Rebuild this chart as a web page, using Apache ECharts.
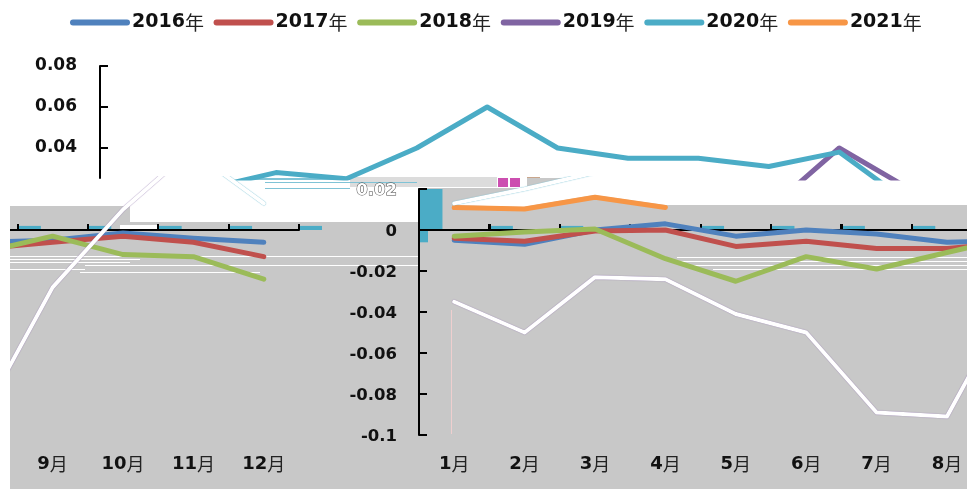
<!DOCTYPE html>
<html><head><meta charset="utf-8">
<style>html,body{margin:0;padding:0;background:#fff}#c{width:967px;height:489px}</style>
<script src="https://cdn.jsdelivr.net/npm/echarts@6/dist/echarts.min.js"></script>
</head><body><div id="c"></div>
<script>
const years = ['2016年','2017年','2018年','2019年','2020年','2021年'];
const colors = ['#4F81BD','#C0504D','#9BBB59','#8064A2','#4BACC6','#F79646'];
const monthsTop = ['1月','2月','3月','4月','5月','6月','7月','8月','9月','10月','11月','12月'];
const v2016 = [-0.005,-0.007,0,0.003,-0.003,0,-0.002,-0.006,-0.005,-0.0015,-0.004,-0.006];
const v2017 = [-0.004,-0.0055,-0.0005,0,-0.008,-0.0055,-0.009,-0.009,-0.006,-0.003,-0.006,-0.013];
const v2018 = [-0.003,-0.001,0.0005,-0.014,-0.025,-0.013,-0.019,-0.011,-0.003,-0.012,-0.013,-0.024];
const v2019 = [-0.035,-0.05,-0.023,-0.024,-0.041,-0.05,-0.089,-0.091,-0.028,0.01,0.04,0.02];
const v2020 = [0.013,0.02,0.028,0.025,0.04,0.06,0.04,0.035,0.035,0.031,0.038,0.013];
const v2021 = [0.011,0.0102,0.016,0.011,null,null,null,null,null,null,null,null];
const barRight = [0.02,0.002,0.002,null,0.002,0.002,0.002,0.002,0.002];
const barLeft = [null,0.002,0.002,0.002,0.002];
const stubRight = [-0.006];
const stubLeft = [0.002];
const allValues = [v2016,v2017,v2018,v2019,v2020,v2021];

const FONT = '"DejaVu Sans","Noto Sans CJK SC",sans-serif';
const CJK = '"Noto Sans CJK SC",sans-serif';
const BAND = 70.4, ZERO_Y = 230, PX = 2050;
const CLIP = (ZERO_Y - 178) / PX;
const GRAY = '#C8C8C8';

const split = t => t.replace(/^(\d+)(.)$/, '{b|$1}{n|$2}');
const rich = size => ({b:{fontFamily:FONT,fontWeight:'bold',fontSize:size,color:'#111'},
                       n:{fontFamily:CJK,fontWeight:'normal',fontSize:size,color:'#222'}});

const G = o => ({outerBoundsMode:'none',containLabel:false,...o});
const leftX = 299-BAND*5;
const grids = [
  G({left:100, top:66, width:BAND*12, height:112}),         // 0 upper slice
  G({left:leftX, top:178, width:BAND*5, height:257}),       // 1 left lower slice
  G({left:419, top:178, width:BAND*9, height:257}),         // 2 right lower slice
  G({left:419, top:189, width:1, height:246}),              // 3 y-axis of lower slice
  G({left:420, top:178, width:8, height:257}),              // 4 narrow negative bar
  G({left:299, top:178, width:23, height:257}),             // 5 last small bar
  G({left:leftX, top:230, width:BAND*5, height:205}),       // 6 left month axis
  G({left:419, top:230, width:BAND*9, height:205}),         // 7 right month labels
  G({left:419, top:230, width:BAND*7, height:205}),         // 8 right zero line, first part
  G({left:419+BAND*7, top:230, width:967-419-BAND*7, height:205}) // 9 right zero line, to the edge
];
const hiddenX = (gi,data) => ({gridIndex:gi,type:'category',data,show:false,boundaryGap:true});
const hiddenY = (gi,min,max) => ({gridIndex:gi,type:'value',min,max,show:false,splitLine:{show:false}});
const lineX = (gi,data,tick) => ({gridIndex:gi,type:'category',data,position:'top',boundaryGap:true,z:3,
  axisLine:{show:true,onZero:false,lineStyle:{color:'#000',width:2}},
  axisTick:{show:tick,inside:false,length:6,lineStyle:{color:'#000',width:2}},
  axisLabel:{show:false},splitLine:{show:false}});
const labelX = (gi,data) => ({gridIndex:gi,type:'category',data,position:'bottom',boundaryGap:true,z:6,
  axisLine:{show:false,onZero:false},axisTick:{show:false},
  axisLabel:{show:true,interval:0,margin:20,formatter:split,rich:rich(18),hideOverlap:false},
  splitLine:{show:false}});

const leftMonths = monthsTop.slice(7);
const rightMonths = monthsTop.slice(0,9);
const axisStyle = {lineStyle:{color:'#000',width:2}};

const xAxis = [
  hiddenX(0,monthsTop),
  hiddenX(1,leftMonths),
  hiddenX(2,rightMonths),
  hiddenX(3,['']),
  hiddenX(4,['']),
  hiddenX(5,['']),
  lineX(6,leftMonths,true),
  hiddenX(7,rightMonths),
  lineX(8,rightMonths.slice(0,7),true),
  lineX(9,[''],false),
  labelX(6,leftMonths),
  labelX(7,rightMonths)
];
const yAxis = [
  {gridIndex:0,type:'value',min:CLIP,max:0.08,z:6,splitLine:{show:false},
   axisLine:{show:true,...axisStyle},
   axisTick:{show:true,inside:true,length:8,customValues:[0.04,0.06,0.08],...axisStyle},
   axisLabel:{customValues:[0.04,0.06,0.08],margin:23,fontFamily:FONT,fontWeight:'bold',fontSize:17,color:'#111',
     padding:[4,0,0,0],formatter:v=>v.toFixed(2)}},
  hiddenY(1,-0.1,CLIP),
  hiddenY(2,-0.1,CLIP),
  {gridIndex:3,type:'value',min:-0.1,max:0.02,interval:0.02,z:6,splitLine:{show:false},
   axisLine:{show:true,...axisStyle},
   axisTick:{show:true,inside:true,length:8,...axisStyle},
   axisLabel:{margin:22,fontFamily:FONT,fontWeight:'bold',fontSize:16.5,color:'#111',padding:[4,0,0,0],
     formatter:v=>Math.abs(v-0.02)<1e-9?'{o|0.02}':String(+v.toFixed(2)),
     rich:{o:{fontFamily:FONT,fontWeight:'bold',fontSize:16.5,color:'#fff',textBorderColor:'#444',textBorderWidth:1}}}},
  hiddenY(4,-0.1,CLIP),
  hiddenY(5,-0.1,CLIP),
  hiddenY(6,-0.1,0),
  hiddenY(7,-0.1,0),
  hiddenY(8,-0.1,0),
  hiddenY(9,-0.1,0)
];

const line = (name,gi,data,lineColor,w,extra) => ({
  name,type:'line',xAxisIndex:gi,yAxisIndex:gi,data,symbol:'none',z:4,clip:true,connectNulls:false,
  itemStyle:{color:lineColor},
  lineStyle:{color:lineColor,width:w,cap:'round',join:'round',...(extra||{})},
  emphasis:{disabled:true},animation:false});
const bar = (gi,data) => ({
  type:'bar',xAxisIndex:gi,yAxisIndex:gi,data,itemStyle:{color:colors[4]},z:2,animation:false,
  barCategoryGap:'0%',barGap:'0%'});
const spacer = gi => ({type:'bar',xAxisIndex:gi,yAxisIndex:gi,data:[],barCategoryGap:'0%',barGap:'0%',animation:false});

const purpleEdge = {shadowColor:colors[3],shadowBlur:1};
const cyanEdge = {shadowColor:colors[4],shadowBlur:1};
const series = [];
years.forEach((y,i)=>series.push(line(y,0,allValues[i],colors[i],5)));
[0,1,2,5].forEach(i=>{
  series.push(line(years[i],1,allValues[i].slice(7),colors[i],5));
  series.push(line(years[i],2,allValues[i].slice(0,9),colors[i],5));
});
series.push(line(years[3],1,v2019.slice(7,11),'#fff',4,purpleEdge));
series.push(line(years[3],2,v2019.slice(0,9),'#fff',4,purpleEdge));
series.push(line(years[4],1,[null,null,null,v2020[10],v2020[11]],'#fff',4,cyanEdge));
series.push(line(years[4],2,v2020.slice(0,3),'#fff',4,cyanEdge));
series.push(bar(1,barLeft),spacer(1),spacer(1));
series.push(bar(2,barRight),spacer(2),spacer(2));
series.push(bar(4,stubRight));
series.push(bar(5,stubLeft));

const rect = (x,y,w,h,fill,z) => ({type:'rect',shape:{x,y,width:w,height:h},style:{fill},z:z,silent:true});
const poly = (points,fill,z) => ({type:'polygon',shape:{points},style:{fill},z:z,silent:true});
const streak = (x,y,w) => rect(x,y,w,1,'#fff',1);

const graphics = [
  rect(10,222,408,267,GRAY,0),
  rect(10,206,120,16,GRAY,0),
  rect(418,188,549,301,GRAY,0),
  rect(350,177,147,10,'#DCDCDC',0),
  rect(527,178,38,10,GRAY,0),
  rect(498,178,10,9,'#CC4FB0',1),
  rect(510,178,10,9,'#CC4FB0',1),
  rect(527,177,13,1,'#C9A68C',1),
  poly([[452,205],[523,207],[594,195],[665,205],[967,205],[967,178],[565,178],[485,196]],'#fff',1),
  rect(120,225,38,4,'#fff',1),
  rect(250,178,100,2,'#7FC3D6',1),
  rect(265,182,152,1,'#7FC3D6',1),
  rect(265,188,85,1,'#7FC3D6',1),
  streak(10,256,408),streak(10,259,130),streak(10,262,120),streak(85,265,333),
  streak(10,269,75),streak(80,272,180),
  streak(677,257,290),streak(680,261,287),streak(690,265,277),streak(713,269,254),
  rect(451,310,1,124,'#EFCFCF',1),
  rect(0,178,10,311,'#fff',50),
  // zero line of the right slice, under the series
  rect(419,229,548,2,'#000',3.5),
  ...[1,2,3,4,5,6,7].map(k=>rect(Math.round(419+BAND*k)-1,224,2,6,'#000',3.5))
];

const chart = echarts.init(document.getElementById('c'),null,{renderer:'canvas'});
chart.setOption({
  animation:false,
  backgroundColor:'#fff',
  grid:grids, xAxis, yAxis, series,
  legend:{data:years,left:65,top:8,itemWidth:54,itemHeight:14,itemGap:9.7,
    formatter:split,
    itemStyle:{opacity:0},
    lineStyle:{width:6,cap:'round'},
    textStyle:{rich:rich(19)},
    selectedMode:false},
  graphic:{elements:graphics}
});
</script></body></html>
